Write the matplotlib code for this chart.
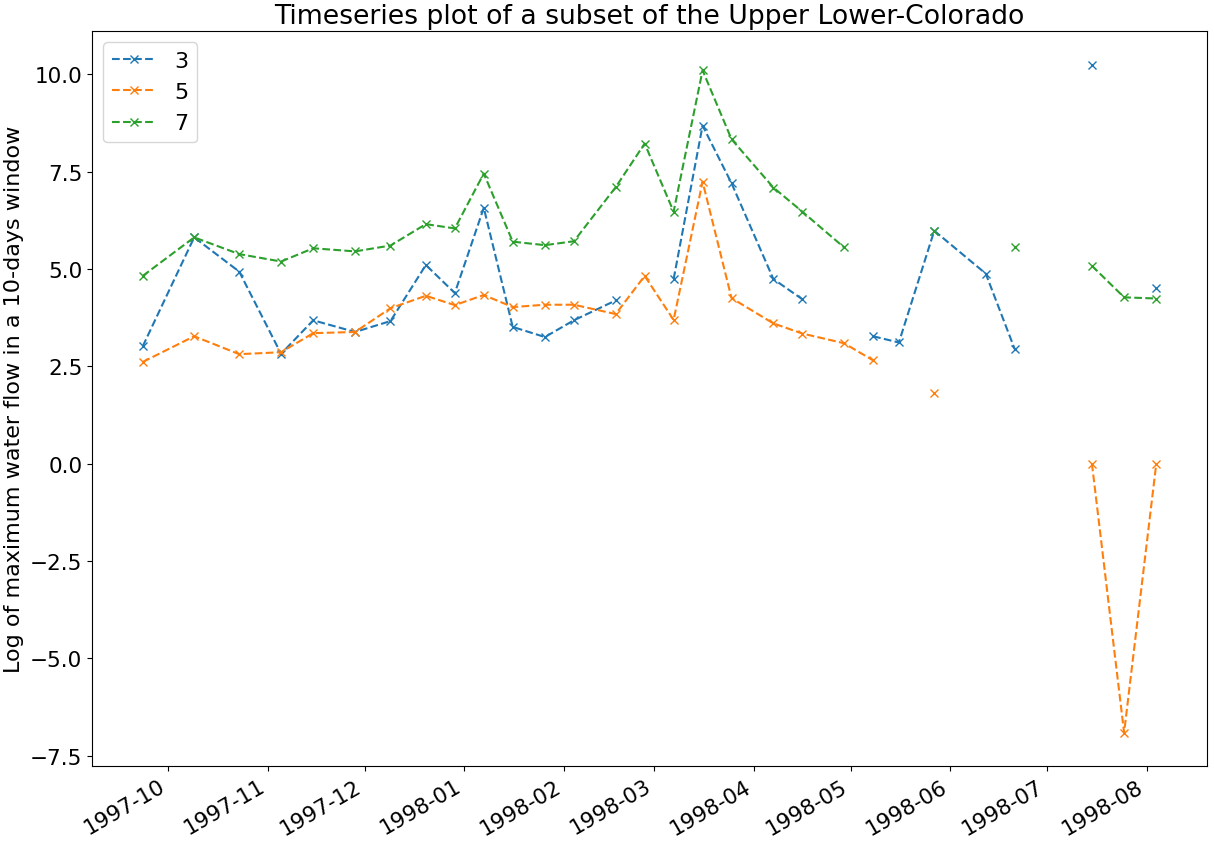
import matplotlib
matplotlib.use("Agg")
import matplotlib.pyplot as plt
import numpy as np
import pandas as pd

nan = np.nan

# dates of the 10-day windows
dates = pd.to_datetime([
    "1997-09-23", "1997-10-09", "1997-10-23", "1997-11-05", "1997-11-15",
    "1997-11-28", "1997-12-09", "1997-12-20", "1997-12-29", "1998-01-07",
    "1998-01-16", "1998-01-26", "1998-02-04", "1998-02-17", "1998-02-26",
    "1998-03-07", "1998-03-16", "1998-03-25", "1998-04-07", "1998-04-16",
    "1998-04-29", "1998-05-08", "1998-05-16", "1998-05-27", "1998-06-12",
    "1998-06-21", "1998-07-03", "1998-07-15", "1998-07-25", "1998-08-04",
])

station_3 = [3.01, 5.81, 4.93, 2.82, 3.68, 3.38, 3.66, 5.10, 4.38, 6.57,
             3.51, 3.25, 3.68, 4.19, nan, 4.74, 8.68, 7.20, 4.74, 4.22,
             nan, 3.27, 3.11, 5.98, 4.88, 2.94, nan, 10.25, nan, 4.52]
station_5 = [2.61, 3.27, 2.81, 2.86, 3.35, 3.38, 3.99, 4.31, 4.07, 4.33,
             4.02, 4.08, 4.08, 3.84, 4.82, 3.69, 7.24, 4.25, 3.60, 3.34,
             3.09, 2.65, nan, 1.81, nan, nan, nan, 0.0, -6.91, 0.0]
station_7 = [4.82, 5.81, 5.38, 5.19, 5.53, 5.45, 5.60, 6.15, 6.04, 7.45,
             5.70, 5.61, 5.71, 7.10, 8.22, 6.47, 10.10, 8.33, 7.09, 6.47,
             5.55, nan, nan, 5.98, nan, 5.55, nan, 5.08, 4.27, 4.24]

labels = ["3", "5", "7"]

plt.rcParams.update({'font.size': 16, 'xtick.labelsize': 15.5, 'ytick.labelsize': 15.5})

fig, ax = plt.subplots(figsize=(12.14, 8.45), dpi=100)

for vals, lab in zip([station_3, station_5, station_7], labels):
    ax.plot(dates, vals, '--x', label=lab)

ax.set_title("Timeseries plot of a subset of the Upper Lower-Colorado", fontsize=19.2)
ax.set_ylabel("Log of maximum water flow in a 10-days window")
ax.legend(loc="upper left")
fig.autofmt_xdate()
fig.subplots_adjust(left=0.0758, right=0.9942, top=0.962, bottom=0.0923)

plt.savefig("out.png")
